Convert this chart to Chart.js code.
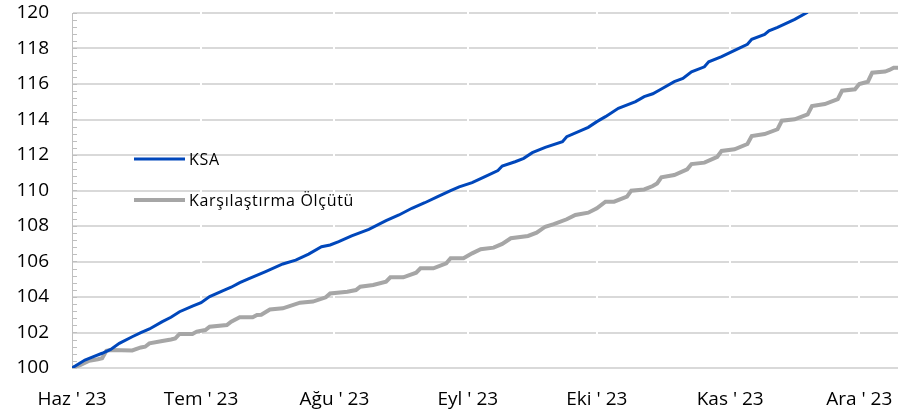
<!DOCTYPE html>
<html>
<head>
<meta charset="utf-8">
<script src="https://cdn.jsdelivr.net/npm/chart.js@4"></script>
<style>
    html, body { margin: 0; padding: 0; background: #fff; }
    #wrap { width: 907px; height: 417px; }
</style>
</head>
<body>
<div id="wrap"><canvas id="myChart"></canvas></div>
<script>
    // Days counted from 1 June 2023
    const ksaDays = [0, 3, 5, 7, 9, 11, 14, 16, 18, 21, 23, 25, 28, 30, 32, 35, 37, 39, 41, 45, 49, 52, 55, 58, 60, 62, 65, 69, 73, 76, 79, 82, 85, 88, 90, 93, 96, 99, 100, 103, 105, 107, 110, 114, 115, 120, 122, 124, 127, 131, 133, 135, 137, 140, 142, 144, 147, 148, 151, 155, 157, 158, 161, 162, 164, 168, 171];
    const ksaValues = [100.0, 100.45, 100.64, 100.83, 101.05, 101.39, 101.76, 101.99, 102.2, 102.61, 102.86, 103.17, 103.49, 103.68, 104.02, 104.35, 104.55, 104.81, 105.02, 105.43, 105.86, 106.08, 106.42, 106.83, 106.93, 107.12, 107.44, 107.81, 108.3, 108.62, 109.0, 109.31, 109.65, 109.99, 110.2, 110.44, 110.78, 111.12, 111.38, 111.62, 111.81, 112.13, 112.43, 112.75, 113.03, 113.56, 113.88, 114.16, 114.63, 115.01, 115.29, 115.45, 115.72, 116.13, 116.31, 116.69, 116.97, 117.25, 117.54, 118.01, 118.24, 118.52, 118.79, 119.0, 119.19, 119.64, 120.05];

    const benchDays = [0, 2, 4, 6, 7, 8, 9, 14, 16, 17, 18, 21, 23, 24, 25, 28, 29, 31, 32, 36, 37, 39, 42, 43, 44, 46, 49, 53, 56, 59, 60, 64, 66, 67, 70, 73, 74, 77, 80, 81, 84, 87, 88, 91, 93, 95, 98, 100, 102, 106, 108, 110, 112, 115, 117, 120, 122, 124, 126, 129, 130, 133, 135, 136, 137, 140, 143, 144, 147, 150, 151, 154, 157, 158, 161, 164, 165, 168, 171, 172, 175, 178, 179, 182, 183, 185, 186, 189, 190, 191, 192];
    const benchValues = [100.0, 100.17, 100.41, 100.49, 100.55, 100.97, 101.01, 100.99, 101.16, 101.2, 101.39, 101.52, 101.61, 101.67, 101.92, 101.92, 102.05, 102.14, 102.33, 102.42, 102.61, 102.86, 102.86, 102.99, 103.0, 103.3, 103.36, 103.68, 103.74, 103.98, 104.2, 104.3, 104.39, 104.58, 104.68, 104.86, 105.11, 105.11, 105.37, 105.62, 105.62, 105.9, 106.18, 106.18, 106.46, 106.69, 106.78, 106.99, 107.31, 107.44, 107.62, 107.96, 108.1, 108.38, 108.62, 108.75, 109.0, 109.37, 109.37, 109.65, 109.99, 110.06, 110.25, 110.4, 110.74, 110.87, 111.19, 111.49, 111.57, 111.9, 112.23, 112.32, 112.62, 113.07, 113.18, 113.45, 113.93, 114.01, 114.29, 114.76, 114.87, 115.15, 115.62, 115.7, 116.0, 116.13, 116.64, 116.7, 116.79, 116.92, 116.92];

    // Month starts (days from 1 June) and their tick labels
    const monthDays = [0, 30, 61, 92, 122, 153, 183];
    const monthLabels = ["Haz ' 23", "Tem ' 23", "Ağu ' 23", "Eyl ' 23", "Eki ' 23", "Kas ' 23", "Ara ' 23"];

    const seriesNames = ['KSA', 'Karşılaştırma Ölçütü'];
    const yTicks = [100, 102, 104, 106, 108, 110, 112, 114, 116, 118, 120];

    const FONT = "'Open Sans', 'Noto Sans', sans-serif";

    function toPoints(days, values) {
        return days.map((d, i) => ({ x: d, y: values[i] }));
    }

    // Draws the legend inside the plot, the minor ticks and the small breaks in the gridlines
    const extras = {
        id: 'extras',
        beforeDatasetsDraw(chart) {
            const ctx = chart.ctx;
            const area = chart.chartArea;
            const xs = chart.scales.x;
            ctx.save();
            ctx.fillStyle = '#ffffff';
            monthDays.slice(1).forEach(d => {
                const px = Math.round(xs.getPixelForValue(d));
                ctx.fillRect(px - 1, area.top - 1, 2, area.bottom - area.top - 1);
            });
            // minor ticks on the value axis
            const ys = chart.scales.y;
            ctx.strokeStyle = '#bfbfbf';
            ctx.lineWidth = 1;
            for (let v = 100; v <= 120.001; v += 0.4) {
                const py = Math.round(ys.getPixelForValue(v)) + 0.5;
                ctx.beginPath();
                ctx.moveTo(area.left, py);
                ctx.lineTo(area.left + 5, py);
                ctx.stroke();
            }
            ctx.restore();
        },
        afterDraw(chart) {
            const ctx = chart.ctx;
            ctx.save();
            ctx.font = '16px ' + FONT;
            ctx.letterSpacing = '0.7px';
            ctx.fillStyle = '#000';
            ctx.textBaseline = 'middle';
            const rows = [159, 200];
            chart.data.datasets.forEach((ds, i) => {
                ctx.strokeStyle = ds.borderColor;
                ctx.lineWidth = ds.borderWidth;
                ctx.beginPath();
                ctx.moveTo(134, rows[i]);
                ctx.lineTo(185, rows[i]);
                ctx.stroke();
                ctx.fillText(ds.label, 189, rows[i] + 1);
            });
            ctx.restore();
        }
    };

    const ctx = document.getElementById('myChart').getContext('2d');
    const chart = new Chart(ctx, {
        type: 'line',
        data: {
            datasets: [
                {
                    label: seriesNames[0],
                    data: toPoints(ksaDays, ksaValues),
                    borderColor: '#0047BB',
                    borderWidth: 3,
                    pointRadius: 0,
                    tension: 0,
                    clip: 0,
                },
                {
                    label: seriesNames[1],
                    data: toPoints(benchDays, benchValues),
                    borderColor: '#A6A6A6',
                    borderWidth: 4,
                    pointRadius: 0,
                    tension: 0,
                    clip: 0,
                },
            ],
        },
        options: {
            responsive: true,
            maintainAspectRatio: false,
            animation: false,
            layout: { padding: { top: 13, right: 9, left: 0, bottom: 0 } },
            plugins: {
                legend: { display: false },
                tooltip: { enabled: false },
            },
            scales: {
                x: {
                    type: 'linear',
                    min: 0,
                    max: 192,
                    afterBuildTicks: (scale) => {
                        scale.ticks = monthDays.map(v => ({ value: v }));
                    },
                    afterFit: (scale) => {
                        scale.height = 49;
                        scale.paddingLeft = 0;
                        scale.paddingRight = 0;
                    },
                    grid: { display: false },
                    border: { display: false },
                    ticks: {
                        autoSkip: false,
                        maxRotation: 0,
                        padding: 12,
                        color: '#000',
                        font: { family: FONT, size: 19 },
                        callback: (value) => {
                            const i = monthDays.indexOf(value);
                            return i >= 0 ? monthLabels[i] : '';
                        },
                    },
                },
                y: {
                    min: 100,
                    max: 120,
                    afterBuildTicks: (scale) => {
                        scale.ticks = yTicks.map(v => ({ value: v }));
                    },
                    afterFit: (scale) => {
                        scale.width = 72;
                        scale.paddingTop = 0;
                        scale.paddingBottom = 0;
                    },
                    grid: { color: '#D9D9D9', lineWidth: 2, drawTicks: false },
                    border: { display: true, color: '#BFBFBF', width: 1 },
                    ticks: {
                        padding: 23,
                        color: '#000',
                        font: { family: FONT, size: 19 },
                    },
                },
            },
        },
        plugins: [extras],
    });
</script>
</body>
</html>
